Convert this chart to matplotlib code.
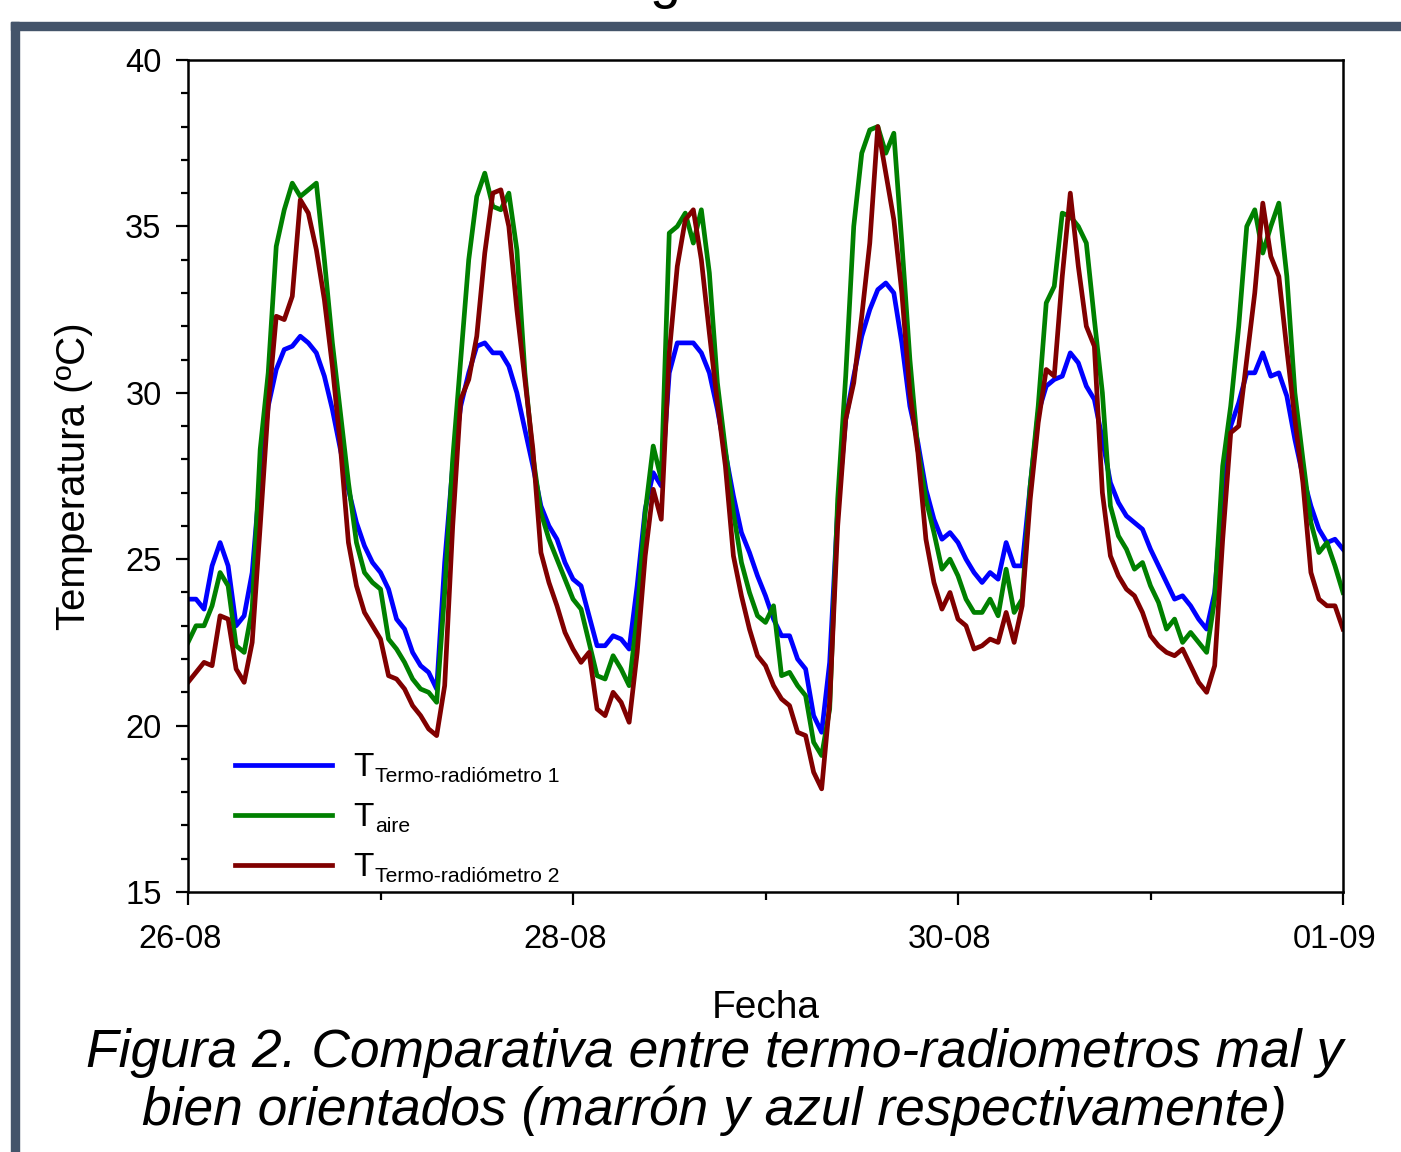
"""
Comparativa entre termo-radiometros mal y bien orientados (figura 2).

Temperatura horaria del 26-08 al 01-09 para los dos termo-radiometros y el aire.
"""

import matplotlib.pyplot as plt
import matplotlib.transforms as mtransforms
import numpy as np
from matplotlib.patches import Rectangle

plt.rcParams["font.family"] = ["Liberation Sans", "DejaVu Sans"]

# hourly readings, 26-08 00:00 -> 01-09 00:00 (145 values each)
t_radiometro_1 = [
    23.8, 23.8, 23.5, 24.8, 25.5, 24.8, 23.0, 23.3, 24.6, 27.5, 29.6, 30.7,
    31.3, 31.4, 31.7, 31.5, 31.2, 30.5, 29.5, 28.3, 27.1, 26.1, 25.4, 24.9,
    24.6, 24.1, 23.2, 22.9, 22.2, 21.8, 21.6, 21.1, 24.9, 27.8, 29.6, 30.6,
    31.4, 31.5, 31.2, 31.2, 30.8, 30.0, 28.9, 27.8, 26.6, 26.0, 25.6, 24.9,
    24.4, 24.2, 23.3, 22.4, 22.4, 22.7, 22.6, 22.3, 24.2, 26.5, 27.6, 27.2,
    30.6, 31.5, 31.5, 31.5, 31.2, 30.6, 29.5, 28.2, 26.9, 25.8, 25.2, 24.5,
    23.9, 23.2, 22.7, 22.7, 22.0, 21.7, 20.3, 19.8, 21.9, 26.5, 29.2, 30.5,
    31.7, 32.5, 33.1, 33.3, 33.0, 31.5, 29.6, 28.5, 27.1, 26.2, 25.6, 25.8,
    25.5, 25.0, 24.6, 24.3, 24.6, 24.4, 25.5, 24.8, 24.8, 27.2, 29.4, 30.2,
    30.4, 30.5, 31.2, 30.9, 30.2, 29.8, 28.6, 27.3, 26.7, 26.3, 26.1, 25.9,
    25.3, 24.8, 24.3, 23.8, 23.9, 23.6, 23.2, 22.9, 24.0, 27.0, 29.0, 29.7,
    30.6, 30.6, 31.2, 30.5, 30.6, 29.9, 28.6, 27.5, 26.6, 25.9, 25.5, 25.6,
    25.3,
]
t_aire = [
    22.5, 23.0, 23.0, 23.6, 24.6, 24.2, 22.4, 22.2, 23.5, 28.3, 30.6, 34.4,
    35.5, 36.3, 35.9, 36.1, 36.3, 34.0, 31.5, 29.4, 27.3, 25.5, 24.6, 24.3,
    24.1, 22.6, 22.3, 21.9, 21.4, 21.1, 21.0, 20.7, 24.0, 28.0, 31.0, 34.0,
    35.9, 36.6, 35.6, 35.5, 36.0, 34.3, 30.6, 28.1, 26.4, 25.6, 25.0, 24.4,
    23.8, 23.5, 22.5, 21.5, 21.4, 22.1, 21.7, 21.2, 23.3, 26.4, 28.4, 27.4,
    34.8, 35.0, 35.4, 34.5, 35.5, 33.6, 30.3, 28.3, 26.4, 24.9, 24.0, 23.3,
    23.1, 23.6, 21.5, 21.6, 21.2, 20.9, 19.5, 19.1, 20.5, 26.8, 30.5, 35.0,
    37.2, 37.9, 38.0, 37.2, 37.8, 34.5, 31.0, 28.3, 26.8, 25.8, 24.7, 25.0,
    24.5, 23.8, 23.4, 23.4, 23.8, 23.3, 24.7, 23.4, 23.8, 27.2, 29.6, 32.7,
    33.2, 35.4, 35.3, 35.0, 34.5, 32.2, 30.0, 26.6, 25.7, 25.3, 24.7, 24.9,
    24.2, 23.7, 22.9, 23.2, 22.5, 22.8, 22.5, 22.2, 23.8, 27.8, 29.6, 32.0,
    35.0, 35.5, 34.2, 35.0, 35.7, 33.5, 30.0, 28.0, 26.1, 25.2, 25.5, 24.8,
    24.0,
]
t_radiometro_2 = [
    21.3, 21.6, 21.9, 21.8, 23.3, 23.2, 21.7, 21.3, 22.5, 26.0, 29.6, 32.3,
    32.2, 32.9, 35.8, 35.4, 34.3, 32.8, 30.8, 28.4, 25.5, 24.2, 23.4, 23.0,
    22.6, 21.5, 21.4, 21.1, 20.6, 20.3, 19.9, 19.7, 21.2, 26.0, 29.8, 30.4,
    31.7, 34.2, 36.0, 36.1, 35.0, 32.5, 30.4, 28.3, 25.2, 24.3, 23.6, 22.8,
    22.3, 21.9, 22.2, 20.5, 20.3, 21.0, 20.7, 20.1, 22.2, 25.1, 27.1, 26.2,
    31.2, 33.8, 35.2, 35.5, 34.0, 31.8, 29.7, 27.8, 25.1, 23.9, 22.9, 22.1,
    21.8, 21.2, 20.8, 20.6, 19.8, 19.7, 18.6, 18.1, 20.7, 26.0, 29.2, 30.3,
    32.3, 34.5, 38.0, 36.6, 35.2, 33.0, 30.0, 28.2, 25.6, 24.3, 23.5, 24.0,
    23.2, 23.0, 22.3, 22.4, 22.6, 22.5, 23.4, 22.5, 23.6, 26.8, 29.1, 30.7,
    30.5, 33.5, 36.0, 33.8, 32.0, 31.4, 27.0, 25.1, 24.5, 24.1, 23.9, 23.4,
    22.7, 22.4, 22.2, 22.1, 22.3, 21.8, 21.3, 21.0, 21.8, 25.6, 28.8, 29.0,
    31.0, 33.0, 35.7, 34.1, 33.5, 31.3, 29.2, 27.3, 24.6, 23.8, 23.6, 23.6,
    22.9,
]

date_labels = ["26-08", "28-08", "30-08", "01-09"]
series_subscripts = ["Termo-radiómetro 1", "aire", "Termo-radiómetro 2"]
series_colors = ["#0000ff", "#008000", "#800000"]

caption = ("Figura 2. Comparativa entre termo-radiometros mal y\n"
           "bien orientados (marrón y azul respectivamente)")


def main():
    days = np.arange(len(t_aire)) / 24.0

    fig = plt.figure(figsize=(14.01, 11.52), dpi=100)
    ax = fig.add_axes([0.1342, 0.2257, 0.8244, 0.7222])

    for values, color in zip(
        [t_radiometro_1, t_aire, t_radiometro_2], series_colors
    ):
        ax.plot(days, values, color=color, linewidth=3.4, label="T")

    ax.set_xlim(0, 6)
    ax.set_ylim(15, 40)
    ax.set_xticks([0, 2, 4, 6])
    ax.set_xticklabels(date_labels)
    ax.set_xticks([1, 3, 5], minor=True)
    ax.set_yticks([15, 20, 25, 30, 35, 40])
    ax.set_yticks(np.arange(15, 41, 1), minor=True)
    ax.tick_params(which="both", direction="out", width=1.6,
                   top=False, right=False, labelsize=23.5)
    ax.tick_params(axis="y", which="major", length=9, pad=10)
    ax.tick_params(axis="y", which="minor", length=5)
    ax.tick_params(axis="x", which="major", length=9, pad=14)
    ax.tick_params(axis="x", which="minor", length=6)
    for spine in ax.spines.values():
        spine.set_linewidth(1.8)

    # date labels sit a little to the left of their ticks
    shift = mtransforms.ScaledTranslation(-6 / 72, 0, fig.dpi_scale_trans)
    for label in ax.get_xticklabels():
        label.set_transform(label.get_transform() + shift)

    ax.set_xlabel("Fecha", fontsize=28)
    ax.xaxis.set_label_coords(0.5, -0.118)
    ax.set_ylabel("Temperatura (ºC)", fontsize=29)
    ax.yaxis.set_label_coords(-0.082, 0.5)

    legend = ax.legend(loc="upper left", bbox_to_anchor=(0.0407, 0.168),
                       frameon=False, fontsize=24, handlelength=2.9,
                       handletextpad=0.64, labelspacing=0.57,
                       borderaxespad=0.0, borderpad=0.0)
    # subscripts drawn after the legend so its text positions are known
    for text, sub in zip(legend.get_texts(), series_subscripts):
        ax.annotate(sub, xy=(1, 0), xycoords=text, xytext=(1, 1),
                    textcoords="offset points", fontsize=15.2,
                    ha="left", va="baseline", zorder=6)

    # poster frame around the figure
    frame_color = "#44546a"
    fig.patches.append(Rectangle((11 / 1401, 0), 8 / 1401, 1 - 22 / 1152,
                                 transform=fig.transFigure, color=frame_color))
    fig.patches.append(Rectangle((11 / 1401, 1 - 30 / 1152), 1, 8 / 1152,
                                 transform=fig.transFigure, color=frame_color))
    fig.text(0.475, 1 + 3 / 1152, "g", fontsize=40, ha="center", va="baseline")

    fig.text(0.51, 0.061, caption, fontsize=38.4, style="italic",
             ha="center", va="center", linespacing=1.2)

    fig.canvas.draw()
    fig.savefig("out.png", dpi=100)
    plt.close(fig)


if __name__ == "__main__":
    main()
